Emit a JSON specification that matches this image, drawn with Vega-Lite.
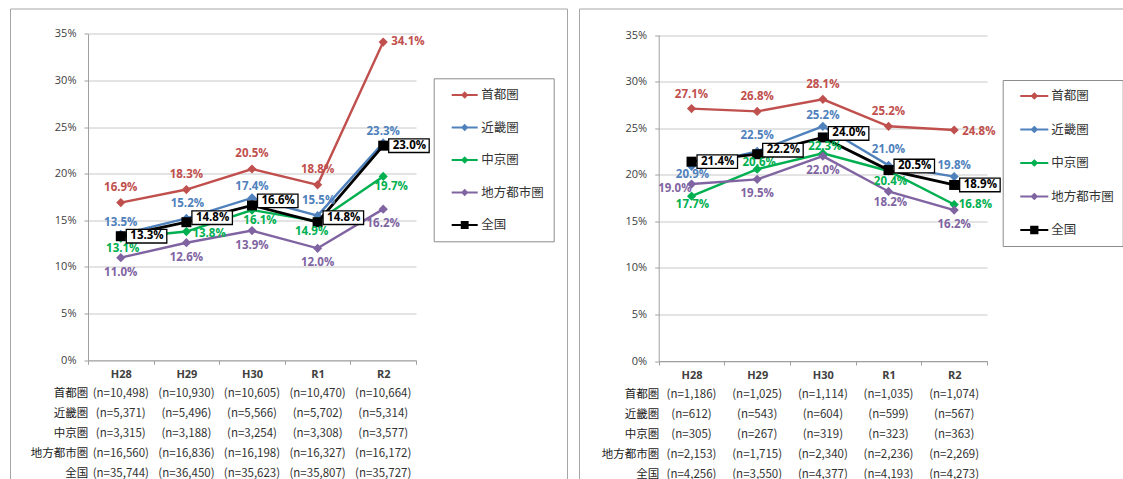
{
  "$schema": "https://vega.github.io/schema/vega-lite/v6.json",
  "padding": {"left": 9, "top": 7.5, "right": 0, "bottom": 0},
  "spacing": 10,
  "config": {
    "font": "Open Sans",
    "view": {"stroke": "#A6A6A6", "strokeWidth": 1},
    "axis": {"labelFont": "Open Sans", "labelColor": "#404040", "domainColor": "#A0A0A0", "tickColor": "#A0A0A0", "gridColor": "#C8C8C8"},
    "text": {"font": "Open Sans"}
  },
  "resolve": {
    "scale": {"color": "independent", "fill": "independent", "stroke": "independent", "shape": "independent"},
    "legend": {"color": "independent", "fill": "independent", "stroke": "independent", "shape": "independent"}
  },
  "datasets": {
    "left": [
      {"series": "首都圏", "year": "H28", "value": 0.169}, {"series": "首都圏", "year": "H29", "value": 0.183}, {"series": "首都圏", "year": "H30", "value": 0.205}, {"series": "首都圏", "year": "R1", "value": 0.188}, {"series": "首都圏", "year": "R2", "value": 0.341},
      {"series": "近畿圏", "year": "H28", "value": 0.135}, {"series": "近畿圏", "year": "H29", "value": 0.152}, {"series": "近畿圏", "year": "H30", "value": 0.174}, {"series": "近畿圏", "year": "R1", "value": 0.155}, {"series": "近畿圏", "year": "R2", "value": 0.233},
      {"series": "中京圏", "year": "H28", "value": 0.131}, {"series": "中京圏", "year": "H29", "value": 0.138}, {"series": "中京圏", "year": "H30", "value": 0.161}, {"series": "中京圏", "year": "R1", "value": 0.149}, {"series": "中京圏", "year": "R2", "value": 0.197},
      {"series": "地方都市圏", "year": "H28", "value": 0.110}, {"series": "地方都市圏", "year": "H29", "value": 0.126}, {"series": "地方都市圏", "year": "H30", "value": 0.139}, {"series": "地方都市圏", "year": "R1", "value": 0.120}, {"series": "地方都市圏", "year": "R2", "value": 0.162},
      {"series": "全国", "year": "H28", "value": 0.133}, {"series": "全国", "year": "H29", "value": 0.148}, {"series": "全国", "year": "H30", "value": 0.166}, {"series": "全国", "year": "R1", "value": 0.148}, {"series": "全国", "year": "R2", "value": 0.230}
    ],
    "right": [
      {"series": "首都圏", "year": "H28", "value": 0.271}, {"series": "首都圏", "year": "H29", "value": 0.268}, {"series": "首都圏", "year": "H30", "value": 0.281}, {"series": "首都圏", "year": "R1", "value": 0.252}, {"series": "首都圏", "year": "R2", "value": 0.248},
      {"series": "近畿圏", "year": "H28", "value": 0.209}, {"series": "近畿圏", "year": "H29", "value": 0.225}, {"series": "近畿圏", "year": "H30", "value": 0.252}, {"series": "近畿圏", "year": "R1", "value": 0.210}, {"series": "近畿圏", "year": "R2", "value": 0.198},
      {"series": "中京圏", "year": "H28", "value": 0.177}, {"series": "中京圏", "year": "H29", "value": 0.206}, {"series": "中京圏", "year": "H30", "value": 0.223}, {"series": "中京圏", "year": "R1", "value": 0.204}, {"series": "中京圏", "year": "R2", "value": 0.168},
      {"series": "地方都市圏", "year": "H28", "value": 0.190}, {"series": "地方都市圏", "year": "H29", "value": 0.195}, {"series": "地方都市圏", "year": "H30", "value": 0.220}, {"series": "地方都市圏", "year": "R1", "value": 0.182}, {"series": "地方都市圏", "year": "R2", "value": 0.162},
      {"series": "全国", "year": "H28", "value": 0.214}, {"series": "全国", "year": "H29", "value": 0.222}, {"series": "全国", "year": "H30", "value": 0.240}, {"series": "全国", "year": "R1", "value": 0.205}, {"series": "全国", "year": "R2", "value": 0.189}
    ],
    "leftN": [
      {"region": "首都圏", "year": "H28", "n": 10498}, {"region": "首都圏", "year": "H29", "n": 10930}, {"region": "首都圏", "year": "H30", "n": 10605}, {"region": "首都圏", "year": "R1", "n": 10470}, {"region": "首都圏", "year": "R2", "n": 10664},
      {"region": "近畿圏", "year": "H28", "n": 5371}, {"region": "近畿圏", "year": "H29", "n": 5496}, {"region": "近畿圏", "year": "H30", "n": 5566}, {"region": "近畿圏", "year": "R1", "n": 5702}, {"region": "近畿圏", "year": "R2", "n": 5314},
      {"region": "中京圏", "year": "H28", "n": 3315}, {"region": "中京圏", "year": "H29", "n": 3188}, {"region": "中京圏", "year": "H30", "n": 3254}, {"region": "中京圏", "year": "R1", "n": 3308}, {"region": "中京圏", "year": "R2", "n": 3577},
      {"region": "地方都市圏", "year": "H28", "n": 16560}, {"region": "地方都市圏", "year": "H29", "n": 16836}, {"region": "地方都市圏", "year": "H30", "n": 16198}, {"region": "地方都市圏", "year": "R1", "n": 16327}, {"region": "地方都市圏", "year": "R2", "n": 16172},
      {"region": "全国", "year": "H28", "n": 35744}, {"region": "全国", "year": "H29", "n": 36450}, {"region": "全国", "year": "H30", "n": 35623}, {"region": "全国", "year": "R1", "n": 35807}, {"region": "全国", "year": "R2", "n": 35727}
    ],
    "rightN": [
      {"region": "首都圏", "year": "H28", "n": 1186}, {"region": "首都圏", "year": "H29", "n": 1025}, {"region": "首都圏", "year": "H30", "n": 1114}, {"region": "首都圏", "year": "R1", "n": 1035}, {"region": "首都圏", "year": "R2", "n": 1074},
      {"region": "近畿圏", "year": "H28", "n": 612}, {"region": "近畿圏", "year": "H29", "n": 543}, {"region": "近畿圏", "year": "H30", "n": 604}, {"region": "近畿圏", "year": "R1", "n": 599}, {"region": "近畿圏", "year": "R2", "n": 567},
      {"region": "中京圏", "year": "H28", "n": 305}, {"region": "中京圏", "year": "H29", "n": 267}, {"region": "中京圏", "year": "H30", "n": 319}, {"region": "中京圏", "year": "R1", "n": 323}, {"region": "中京圏", "year": "R2", "n": 363},
      {"region": "地方都市圏", "year": "H28", "n": 2153}, {"region": "地方都市圏", "year": "H29", "n": 1715}, {"region": "地方都市圏", "year": "H30", "n": 2340}, {"region": "地方都市圏", "year": "R1", "n": 2236}, {"region": "地方都市圏", "year": "R2", "n": 2269},
      {"region": "全国", "year": "H28", "n": 4256}, {"region": "全国", "year": "H29", "n": 3550}, {"region": "全国", "year": "H30", "n": 4377}, {"region": "全国", "year": "R1", "n": 4193}, {"region": "全国", "year": "R2", "n": 4273}
    ]
  },
  "hconcat": [
    {
      "width": 557,
      "height": 480,
      "resolve": {"scale": {"y": "independent"}, "axis": {"y": "independent"}},
      "layer": [
        {
          "data": {"name": "left"},
          "encoding": {
            "x": {"field": "year", "type": "nominal",
              "scale": {"type": "band", "domain": ["H28", "H29", "H30", "R1", "R2"], "range": [78, 406], "paddingInner": 0, "paddingOuter": 0},
              "axis": {"title": null, "orient": "bottom", "offset": -128.2, "labelAngle": 0, "tickBand": "extent", "tickSize": 4, "labelFontWeight": "bold", "labelFontSize": 11, "labelPadding": 4, "grid": false}},
            "y": {"field": "value", "type": "quantitative",
              "scale": {"domain": [0, 0.35], "range": [351.8, 25.2], "nice": false, "zero": true},
              "axis": {"title": null, "orient": "left", "offset": -78, "values": [0, 0.05, 0.1, 0.15, 0.2, 0.25, 0.3, 0.35], "format": ".0%", "grid": true, "tickSize": 4, "labelPadding": 8, "labelFontSize": 11}}
          },
          "layer": [
            {"transform": [{"filter": "datum.series !== '全国'"}],
              "mark": {"type": "line", "strokeWidth": 2.4},
              "encoding": {"color": {"field": "series", "type": "nominal", "scale": {"domain": ["全国", "首都圏", "近畿圏", "中京圏", "地方都市圏"], "range": ["#000000", "#C0504D", "#4F81BD", "#00B050", "#8064A2"]}, "legend": null}}},
            {"transform": [{"filter": "datum.series !== '全国'"}],
              "mark": {"type": "point", "shape": "diamond", "size": 85, "filled": true, "opacity": 1},
              "encoding": {"color": {"field": "series", "type": "nominal", "scale": {"domain": ["全国", "首都圏", "近畿圏", "中京圏", "地方都市圏"], "range": ["#000000", "#C0504D", "#4F81BD", "#00B050", "#8064A2"]}, "legend": null}}},
            {"transform": [{"filter": "datum.series === '全国'"}],
              "mark": {"type": "line", "strokeWidth": 2.8, "color": "#000000"}},
            {"transform": [{"filter": "datum.series === '全国'"}],
              "mark": {"type": "point", "shape": "square", "size": 100, "filled": true, "opacity": 1, "color": "#000000"}},
            {"mark": {"type": "point", "filled": true, "opacity": 1, "strokeWidth": 2, "yOffset": 3000, "clip": true},
              "encoding": {
                "fill": {"field": "series", "type": "nominal", "scale": {"domain": ["首都圏", "近畿圏", "中京圏", "地方都市圏", "全国"], "range": ["#C0504D", "#4F81BD", "#00B050", "#8064A2", "#000000"]},
                  "legend": {"title": null, "orient": "none", "legendX": 423.7, "legendY": 69.8, "padding": 9.2, "strokeColor": "#8C8C8C", "fillColor": "#FFFFFF", "symbolSize": 169, "symbolStrokeWidth": 2, "symbolOpacity": 1, "symbolOffset": 14.3, "labelOffset": 9, "rowPadding": 18.5, "labelFont": "Noto Sans CJK JP", "labelFontSize": 12.5, "labelColor": "#333333", "labelExpr": "datum.label + '\u2002\u2009'"}},
                "stroke": {"field": "series", "type": "nominal", "scale": {"domain": ["首都圏", "近畿圏", "中京圏", "地方都市圏", "全国"], "range": ["#C0504D", "#4F81BD", "#00B050", "#8064A2", "#000000"]},
                  "legend": {"title": null, "orient": "none", "legendX": 423.7, "legendY": 69.8, "padding": 9.2, "strokeColor": "#8C8C8C", "fillColor": "#FFFFFF", "symbolSize": 169, "symbolStrokeWidth": 2, "symbolOpacity": 1, "symbolOffset": 14.3, "labelOffset": 9, "rowPadding": 18.5, "labelFont": "Noto Sans CJK JP", "labelFontSize": 12.5, "labelColor": "#333333", "labelExpr": "datum.label + '\u2002\u2009'"}},
                "shape": {"field": "series", "type": "nominal", "scale": {"domain": ["首都圏", "近畿圏", "中京圏", "地方都市圏", "全国"], "range": ["M-2,0H2M0,-0.35L0.35,0L0,0.35L-0.35,0Z", "M-2,0H2M0,-0.35L0.35,0L0,0.35L-0.35,0Z", "M-2,0H2M0,-0.35L0.35,0L0,0.35L-0.35,0Z", "M-2,0H2M0,-0.35L0.35,0L0,0.35L-0.35,0Z", "M-2,0H2M-0.45,-0.45H0.45V0.45H-0.45Z"]},
                  "legend": {"title": null, "orient": "none", "legendX": 423.7, "legendY": 69.8, "padding": 9.2, "strokeColor": "#8C8C8C", "fillColor": "#FFFFFF", "symbolSize": 169, "symbolStrokeWidth": 2, "symbolOpacity": 1, "symbolOffset": 14.3, "labelOffset": 9, "rowPadding": 18.5, "labelFont": "Noto Sans CJK JP", "labelFontSize": 12.5, "labelColor": "#333333", "labelExpr": "datum.label + '\u2002\u2009'"}}
              }},
            {"transform": [{"filter": "indexof(['首都圏|H28','首都圏|H29','首都圏|H30','首都圏|R1'], datum.series + '|' + datum.year) >= 0"}],
              "mark": {"type": "text", "fontWeight": "bold", "fontSize": 11.5, "dy": -15},
              "encoding": {"color": {"field": "series", "type": "nominal", "scale": {"domain": ["全国", "首都圏", "近畿圏", "中京圏", "地方都市圏"], "range": ["#000000", "#C0504D", "#4F81BD", "#00B050", "#8064A2"]}, "legend": null}, "text": {"field": "value", "format": ".1%"}}},
            {"transform": [{"filter": "indexof(['首都圏|R2'], datum.series + '|' + datum.year) >= 0"}],
              "mark": {"type": "text", "fontWeight": "bold", "fontSize": 11.5, "align": "left", "dx": 8},
              "encoding": {"color": {"field": "series", "type": "nominal", "scale": {"domain": ["全国", "首都圏", "近畿圏", "中京圏", "地方都市圏"], "range": ["#000000", "#C0504D", "#4F81BD", "#00B050", "#8064A2"]}, "legend": null}, "text": {"field": "value", "format": ".1%"}}},
            {"transform": [{"filter": "indexof(['近畿圏|H29','近畿圏|R1'], datum.series + '|' + datum.year) >= 0"}],
              "mark": {"type": "text", "fontWeight": "bold", "fontSize": 11.5, "dy": -14.5, "dx": 1},
              "encoding": {"color": {"field": "series", "type": "nominal", "scale": {"domain": ["全国", "首都圏", "近畿圏", "中京圏", "地方都市圏"], "range": ["#000000", "#C0504D", "#4F81BD", "#00B050", "#8064A2"]}, "legend": null}, "text": {"field": "value", "format": ".1%"}}},
            {"transform": [{"filter": "indexof(['近畿圏|H28','近畿圏|H30','近畿圏|R2'], datum.series + '|' + datum.year) >= 0"}],
              "mark": {"type": "text", "fontWeight": "bold", "fontSize": 11.5, "dy": -11},
              "encoding": {"color": {"field": "series", "type": "nominal", "scale": {"domain": ["全国", "首都圏", "近畿圏", "中京圏", "地方都市圏"], "range": ["#000000", "#C0504D", "#4F81BD", "#00B050", "#8064A2"]}, "legend": null}, "text": {"field": "value", "format": ".1%"}}},
            {"transform": [{"filter": "indexof(['中京圏|H28'], datum.series + '|' + datum.year) >= 0"}],
              "mark": {"type": "text", "fontWeight": "bold", "fontSize": 11.5, "dy": 10.5, "dx": 2},
              "encoding": {"color": {"field": "series", "type": "nominal", "scale": {"domain": ["全国", "首都圏", "近畿圏", "中京圏", "地方都市圏"], "range": ["#000000", "#C0504D", "#4F81BD", "#00B050", "#8064A2"]}, "legend": null}, "text": {"field": "value", "format": ".1%"}}},
            {"transform": [{"filter": "indexof(['中京圏|H30','中京圏|R2'], datum.series + '|' + datum.year) >= 0"}],
              "mark": {"type": "text", "fontWeight": "bold", "fontSize": 11.5, "dy": 11, "dx": 8},
              "encoding": {"color": {"field": "series", "type": "nominal", "scale": {"domain": ["全国", "首都圏", "近畿圏", "中京圏", "地方都市圏"], "range": ["#000000", "#C0504D", "#4F81BD", "#00B050", "#8064A2"]}, "legend": null}, "text": {"field": "value", "format": ".1%"}}},
            {"transform": [{"filter": "indexof(['中京圏|R1'], datum.series + '|' + datum.year) >= 0"}],
              "mark": {"type": "text", "fontWeight": "bold", "fontSize": 11.5, "dy": 11, "dx": -6},
              "encoding": {"color": {"field": "series", "type": "nominal", "scale": {"domain": ["全国", "首都圏", "近畿圏", "中京圏", "地方都市圏"], "range": ["#000000", "#C0504D", "#4F81BD", "#00B050", "#8064A2"]}, "legend": null}, "text": {"field": "value", "format": ".1%"}}},
            {"transform": [{"filter": "indexof(['中京圏|H29'], datum.series + '|' + datum.year) >= 0"}],
              "mark": {"type": "text", "fontWeight": "bold", "fontSize": 11.5, "align": "left", "dx": 6, "dy": 2},
              "encoding": {"color": {"field": "series", "type": "nominal", "scale": {"domain": ["全国", "首都圏", "近畿圏", "中京圏", "地方都市圏"], "range": ["#000000", "#C0504D", "#4F81BD", "#00B050", "#8064A2"]}, "legend": null}, "text": {"field": "value", "format": ".1%"}}},
            {"transform": [{"filter": "datum.series === '地方都市圏'"}],
              "mark": {"type": "text", "fontWeight": "bold", "fontSize": 11.5, "dy": 15},
              "encoding": {"color": {"field": "series", "type": "nominal", "scale": {"domain": ["全国", "首都圏", "近畿圏", "中京圏", "地方都市圏"], "range": ["#000000", "#C0504D", "#4F81BD", "#00B050", "#8064A2"]}, "legend": null}, "text": {"field": "value", "format": ".1%"}}},
            {"transform": [{"filter": "datum.series === '全国' && indexof(['H28','R2'], datum.year) >= 0"}],
              "mark": {"type": "point", "shape": "M0.55,-0.68H4.6V0.68H0.55Z", "size": 400, "filled": true, "fill": "#FFFFFF", "stroke": "#000000", "strokeWidth": 1.3, "opacity": 1}},
            {"transform": [{"filter": "datum.series === '全国' && indexof(['H28','R2'], datum.year) >= 0"}],
              "mark": {"type": "text", "fontWeight": "bold", "fontSize": 11.5, "align": "left", "dx": 9.5, "color": "#000000"},
              "encoding": {"text": {"field": "value", "format": ".1%"}}},
            {"transform": [{"filter": "datum.series === '全国' && indexof(['H29','H30','R1'], datum.year) >= 0"}],
              "mark": {"type": "point", "shape": "M0.55,-0.68H4.6V0.68H0.55Z", "size": 400, "filled": true, "fill": "#FFFFFF", "stroke": "#000000", "strokeWidth": 1.3, "opacity": 1, "yOffset": -4.5}},
            {"transform": [{"filter": "datum.series === '全国' && indexof(['H29','H30','R1'], datum.year) >= 0"}],
              "mark": {"type": "text", "fontWeight": "bold", "fontSize": 11.5, "align": "left", "dx": 9.5, "dy": -4.5, "color": "#000000"},
              "encoding": {"text": {"field": "value", "format": ".1%"}}}
          ]
        },
        {
          "data": {"name": "leftN"},
          "mark": {"type": "text", "font": "Noto Sans CJK JP", "fontSize": 11.5, "color": "#333333", "text": {"expr": "'(n=' + format(datum.n, ',') + ')'"}},
          "encoding": {
            "x": {"field": "year", "type": "nominal",
              "scale": {"type": "band", "domain": ["H28", "H29", "H30", "R1", "R2"], "range": [78, 406], "paddingInner": 0, "paddingOuter": 0},
              "axis": {"title": null, "orient": "bottom", "offset": -128.2, "labelAngle": 0, "tickBand": "extent", "tickSize": 4, "labelFontWeight": "bold", "labelFontSize": 11, "labelPadding": 4, "grid": false}},
            "y": {"field": "region", "type": "nominal",
              "scale": {"type": "point", "domain": ["首都圏", "近畿圏", "中京圏", "地方都市圏", "全国"], "range": [385.3, 465], "padding": 0},
              "axis": {"title": null, "orient": "left", "offset": -77.8, "domain": false, "ticks": false, "grid": false, "labelPadding": 0, "labelFont": "Noto Sans CJK JP", "labelFontSize": 11.5, "labelColor": "#222222"}}
          }
        }
      ]
    },
    {
      "width": 560,
      "height": 480,
      "resolve": {"scale": {"y": "independent"}, "axis": {"y": "independent"}},
      "layer": [
        {
          "data": {"name": "right"},
          "encoding": {
            "x": {"field": "year", "type": "nominal",
              "scale": {"type": "band", "domain": ["H28", "H29", "H30", "R1", "R2"], "range": [79.7, 408], "paddingInner": 0, "paddingOuter": 0},
              "axis": {"title": null, "orient": "bottom", "offset": -127.5, "labelAngle": 0, "tickBand": "extent", "tickSize": 4, "labelFontWeight": "bold", "labelFontSize": 11, "labelPadding": 4, "grid": false}},
            "y": {"field": "value", "type": "quantitative",
              "scale": {"domain": [0, 0.35], "range": [352.5, 26.5], "nice": false, "zero": true},
              "axis": {"title": null, "orient": "left", "offset": -79.7, "values": [0, 0.05, 0.1, 0.15, 0.2, 0.25, 0.3, 0.35], "format": ".0%", "grid": true, "tickSize": 4, "labelPadding": 8, "labelFontSize": 11}}
          },
          "layer": [
            {"transform": [{"filter": "datum.series !== '全国'"}],
              "mark": {"type": "line", "strokeWidth": 2.4},
              "encoding": {"color": {"field": "series", "type": "nominal", "scale": {"domain": ["全国", "首都圏", "近畿圏", "中京圏", "地方都市圏"], "range": ["#000000", "#C0504D", "#4F81BD", "#00B050", "#8064A2"]}, "legend": null}}},
            {"transform": [{"filter": "datum.series !== '全国'"}],
              "mark": {"type": "point", "shape": "diamond", "size": 85, "filled": true, "opacity": 1},
              "encoding": {"color": {"field": "series", "type": "nominal", "scale": {"domain": ["全国", "首都圏", "近畿圏", "中京圏", "地方都市圏"], "range": ["#000000", "#C0504D", "#4F81BD", "#00B050", "#8064A2"]}, "legend": null}}},
            {"transform": [{"filter": "datum.series === '全国'"}],
              "mark": {"type": "line", "strokeWidth": 2.8, "color": "#000000"}},
            {"transform": [{"filter": "datum.series === '全国'"}],
              "mark": {"type": "point", "shape": "square", "size": 100, "filled": true, "opacity": 1, "color": "#000000"}},
            {"mark": {"type": "point", "filled": true, "opacity": 1, "strokeWidth": 2, "yOffset": 3000, "clip": true},
              "encoding": {
                "fill": {"field": "series", "type": "nominal", "scale": {"domain": ["首都圏", "近畿圏", "中京圏", "地方都市圏", "全国"], "range": ["#C0504D", "#4F81BD", "#00B050", "#8064A2", "#000000"]},
                  "legend": {"title": null, "orient": "none", "legendX": 423.7, "legendY": 71.5, "padding": 8, "strokeColor": "#8C8C8C", "fillColor": "#FFFFFF", "symbolSize": 196, "symbolStrokeWidth": 2, "symbolOpacity": 1, "symbolOffset": 15.6, "labelOffset": 9, "rowPadding": 18.5, "labelFont": "Noto Sans CJK JP", "labelFontSize": 12.5, "labelColor": "#333333", "labelExpr": "datum.label + '\u2002\u2009'"}},
                "stroke": {"field": "series", "type": "nominal", "scale": {"domain": ["首都圏", "近畿圏", "中京圏", "地方都市圏", "全国"], "range": ["#C0504D", "#4F81BD", "#00B050", "#8064A2", "#000000"]},
                  "legend": {"title": null, "orient": "none", "legendX": 423.7, "legendY": 71.5, "padding": 8, "strokeColor": "#8C8C8C", "fillColor": "#FFFFFF", "symbolSize": 196, "symbolStrokeWidth": 2, "symbolOpacity": 1, "symbolOffset": 15.6, "labelOffset": 9, "rowPadding": 18.5, "labelFont": "Noto Sans CJK JP", "labelFontSize": 12.5, "labelColor": "#333333", "labelExpr": "datum.label + '\u2002\u2009'"}},
                "shape": {"field": "series", "type": "nominal", "scale": {"domain": ["首都圏", "近畿圏", "中京圏", "地方都市圏", "全国"], "range": ["M-2,0H2M0,-0.35L0.35,0L0,0.35L-0.35,0Z", "M-2,0H2M0,-0.35L0.35,0L0,0.35L-0.35,0Z", "M-2,0H2M0,-0.35L0.35,0L0,0.35L-0.35,0Z", "M-2,0H2M0,-0.35L0.35,0L0,0.35L-0.35,0Z", "M-2,0H2M-0.45,-0.45H0.45V0.45H-0.45Z"]},
                  "legend": {"title": null, "orient": "none", "legendX": 423.7, "legendY": 71.5, "padding": 8, "strokeColor": "#8C8C8C", "fillColor": "#FFFFFF", "symbolSize": 196, "symbolStrokeWidth": 2, "symbolOpacity": 1, "symbolOffset": 15.6, "labelOffset": 9, "rowPadding": 18.5, "labelFont": "Noto Sans CJK JP", "labelFontSize": 12.5, "labelColor": "#333333", "labelExpr": "datum.label + '\u2002\u2009'"}}
              }},
            {"transform": [{"filter": "indexof(['首都圏|H28','首都圏|H29','首都圏|H30','首都圏|R1'], datum.series + '|' + datum.year) >= 0"}],
              "mark": {"type": "text", "fontWeight": "bold", "fontSize": 11.5, "dy": -14},
              "encoding": {"color": {"field": "series", "type": "nominal", "scale": {"domain": ["全国", "首都圏", "近畿圏", "中京圏", "地方都市圏"], "range": ["#000000", "#C0504D", "#4F81BD", "#00B050", "#8064A2"]}, "legend": null}, "text": {"field": "value", "format": ".1%"}}},
            {"transform": [{"filter": "indexof(['首都圏|R2'], datum.series + '|' + datum.year) >= 0"}],
              "mark": {"type": "text", "fontWeight": "bold", "fontSize": 11.5, "align": "left", "dx": 8, "dy": 2},
              "encoding": {"color": {"field": "series", "type": "nominal", "scale": {"domain": ["全国", "首都圏", "近畿圏", "中京圏", "地方都市圏"], "range": ["#000000", "#C0504D", "#4F81BD", "#00B050", "#8064A2"]}, "legend": null}, "text": {"field": "value", "format": ".1%"}}},
            {"transform": [{"filter": "indexof(['近畿圏|H29','近畿圏|R1'], datum.series + '|' + datum.year) >= 0"}],
              "mark": {"type": "text", "fontWeight": "bold", "fontSize": 11.5, "dy": -15},
              "encoding": {"color": {"field": "series", "type": "nominal", "scale": {"domain": ["全国", "首都圏", "近畿圏", "中京圏", "地方都市圏"], "range": ["#000000", "#C0504D", "#4F81BD", "#00B050", "#8064A2"]}, "legend": null}, "text": {"field": "value", "format": ".1%"}}},
            {"transform": [{"filter": "indexof(['近畿圏|H30','近畿圏|R2'], datum.series + '|' + datum.year) >= 0"}],
              "mark": {"type": "text", "fontWeight": "bold", "fontSize": 11.5, "dy": -10.5},
              "encoding": {"color": {"field": "series", "type": "nominal", "scale": {"domain": ["全国", "首都圏", "近畿圏", "中京圏", "地方都市圏"], "range": ["#000000", "#C0504D", "#4F81BD", "#00B050", "#8064A2"]}, "legend": null}, "text": {"field": "value", "format": ".1%"}}},
            {"transform": [{"filter": "indexof(['近畿圏|H28','中京圏|H28'], datum.series + '|' + datum.year) >= 0"}],
              "mark": {"type": "text", "fontWeight": "bold", "fontSize": 11.5, "dy": 8.5, "dx": 1},
              "encoding": {"color": {"field": "series", "type": "nominal", "scale": {"domain": ["全国", "首都圏", "近畿圏", "中京圏", "地方都市圏"], "range": ["#000000", "#C0504D", "#4F81BD", "#00B050", "#8064A2"]}, "legend": null}, "text": {"field": "value", "format": ".1%"}}},
            {"transform": [{"filter": "indexof(['中京圏|H29','中京圏|H30'], datum.series + '|' + datum.year) >= 0"}],
              "mark": {"type": "text", "fontWeight": "bold", "fontSize": 11.5, "dy": -6.5, "dx": 2},
              "encoding": {"color": {"field": "series", "type": "nominal", "scale": {"domain": ["全国", "首都圏", "近畿圏", "中京圏", "地方都市圏"], "range": ["#000000", "#C0504D", "#4F81BD", "#00B050", "#8064A2"]}, "legend": null}, "text": {"field": "value", "format": ".1%"}}},
            {"transform": [{"filter": "indexof(['中京圏|R1','地方都市圏|R1'], datum.series + '|' + datum.year) >= 0"}],
              "mark": {"type": "text", "fontWeight": "bold", "fontSize": 11.5, "dy": 11.5, "dx": 2},
              "encoding": {"color": {"field": "series", "type": "nominal", "scale": {"domain": ["全国", "首都圏", "近畿圏", "中京圏", "地方都市圏"], "range": ["#000000", "#C0504D", "#4F81BD", "#00B050", "#8064A2"]}, "legend": null}, "text": {"field": "value", "format": ".1%"}}},
            {"transform": [{"filter": "indexof(['中京圏|R2'], datum.series + '|' + datum.year) >= 0"}],
              "mark": {"type": "text", "fontWeight": "bold", "fontSize": 11.5, "align": "left", "dx": 4.5},
              "encoding": {"color": {"field": "series", "type": "nominal", "scale": {"domain": ["全国", "首都圏", "近畿圏", "中京圏", "地方都市圏"], "range": ["#000000", "#C0504D", "#4F81BD", "#00B050", "#8064A2"]}, "legend": null}, "text": {"field": "value", "format": ".1%"}}},
            {"transform": [{"filter": "indexof(['地方都市圏|H28'], datum.series + '|' + datum.year) >= 0"}],
              "mark": {"type": "text", "fontWeight": "bold", "fontSize": 11.5, "align": "right", "dx": 0, "dy": 4.5},
              "encoding": {"color": {"field": "series", "type": "nominal", "scale": {"domain": ["全国", "首都圏", "近畿圏", "中京圏", "地方都市圏"], "range": ["#000000", "#C0504D", "#4F81BD", "#00B050", "#8064A2"]}, "legend": null}, "text": {"field": "value", "format": ".1%"}}},
            {"transform": [{"filter": "indexof(['地方都市圏|H29','地方都市圏|H30','地方都市圏|R2'], datum.series + '|' + datum.year) >= 0"}],
              "mark": {"type": "text", "fontWeight": "bold", "fontSize": 11.5, "dy": 15},
              "encoding": {"color": {"field": "series", "type": "nominal", "scale": {"domain": ["全国", "首都圏", "近畿圏", "中京圏", "地方都市圏"], "range": ["#000000", "#C0504D", "#4F81BD", "#00B050", "#8064A2"]}, "legend": null}, "text": {"field": "value", "format": ".1%"}}},
            {"transform": [{"filter": "datum.series === '全国' && indexof(['H28','R2'], datum.year) >= 0"}],
              "mark": {"type": "point", "shape": "M0.55,-0.68H4.6V0.68H0.55Z", "size": 400, "filled": true, "fill": "#FFFFFF", "stroke": "#000000", "strokeWidth": 1.3, "opacity": 1}},
            {"transform": [{"filter": "datum.series === '全国' && indexof(['H28','R2'], datum.year) >= 0"}],
              "mark": {"type": "text", "fontWeight": "bold", "fontSize": 11.5, "align": "left", "dx": 9.5, "color": "#000000"},
              "encoding": {"text": {"field": "value", "format": ".1%"}}},
            {"transform": [{"filter": "datum.series === '全国' && indexof(['H29','H30','R1'], datum.year) >= 0"}],
              "mark": {"type": "point", "shape": "M0.55,-0.68H4.6V0.68H0.55Z", "size": 400, "filled": true, "fill": "#FFFFFF", "stroke": "#000000", "strokeWidth": 1.3, "opacity": 1, "yOffset": -4}},
            {"transform": [{"filter": "datum.series === '全国' && indexof(['H29','H30','R1'], datum.year) >= 0"}],
              "mark": {"type": "text", "fontWeight": "bold", "fontSize": 11.5, "align": "left", "dx": 9.5, "dy": -4, "color": "#000000"},
              "encoding": {"text": {"field": "value", "format": ".1%"}}}
          ]
        },
        {
          "data": {"name": "rightN"},
          "mark": {"type": "text", "font": "Noto Sans CJK JP", "fontSize": 11.5, "color": "#333333", "text": {"expr": "'(n=' + format(datum.n, ',') + ')'"}},
          "encoding": {
            "x": {"field": "year", "type": "nominal",
              "scale": {"type": "band", "domain": ["H28", "H29", "H30", "R1", "R2"], "range": [79.7, 408], "paddingInner": 0, "paddingOuter": 0},
              "axis": {"title": null, "orient": "bottom", "offset": -127.5, "labelAngle": 0, "tickBand": "extent", "tickSize": 4, "labelFontWeight": "bold", "labelFontSize": 11, "labelPadding": 4, "grid": false}},
            "y": {"field": "region", "type": "nominal",
              "scale": {"type": "point", "domain": ["首都圏", "近畿圏", "中京圏", "地方都市圏", "全国"], "range": [386.3, 466], "padding": 0},
              "axis": {"title": null, "orient": "left", "offset": -79.7, "domain": false, "ticks": false, "grid": false, "labelPadding": 0, "labelFont": "Noto Sans CJK JP", "labelFontSize": 11.5, "labelColor": "#222222"}}
          }
        }
      ]
    }
  ]
}
